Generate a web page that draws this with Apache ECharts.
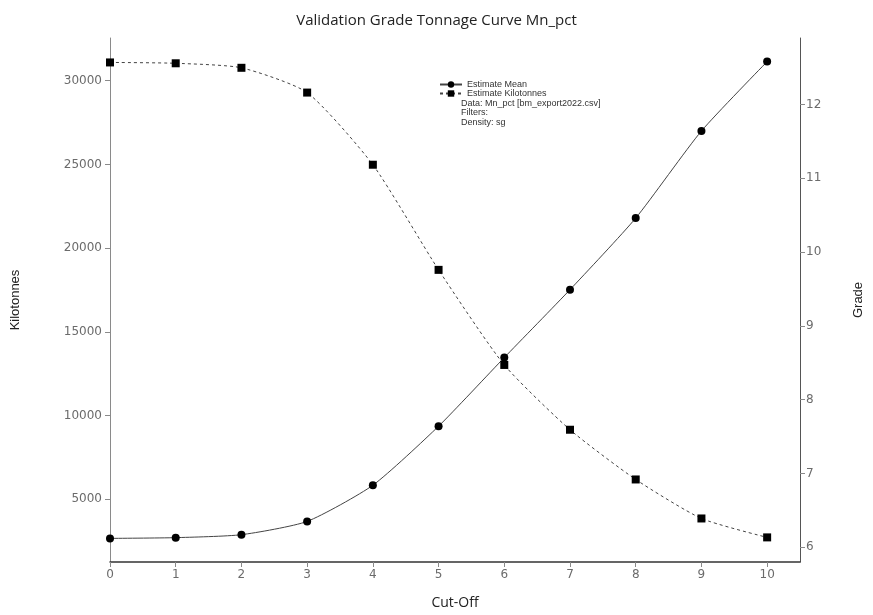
<!DOCTYPE html>
<html lang="en">
<head>
  <meta charset="UTF-8" />
  <title>Validation Grade Tonnage Curve Mn_pct</title>
  <script src="https://cdn.jsdelivr.net/npm/echarts@6.0.0/dist/echarts.min.js"></script>
  <style>
    body { margin: 0; background: #fff; }
    #chart { width: 873px; height: 615px; }
  </style>
</head>
<body>
  <div id="chart"></div>
  <script>
    const cutOff = [0, 1, 2, 3, 4, 5, 6, 7, 8, 9, 10];
    const kilotonnes = [31090, 31040, 30770, 29290, 24980, 18700, 13020, 9150, 6180, 3850, 2720];
    const grade = [6.12, 6.13, 6.17, 6.35, 6.84, 7.64, 8.57, 9.49, 10.46, 11.64, 12.58];
    const leftTicks = [5000, 10000, 15000, 20000, 25000, 30000];
    const rightTicks = [6, 7, 8, 9, 10, 11, 12];
    const xTicks = [0, 1, 2, 3, 4, 5, 6, 7, 8, 9, 10];
    const infoLines = ['Data: Mn_pct [bm_export2022.csv]', 'Filters:', 'Density: sg'];

    const chart = echarts.init(document.getElementById('chart'));
    const axisGray = '#8a8a8a';
    const labelGray = '#6b6b6b';

    chart.setOption({
      animation: false,
      backgroundColor: '#fff',
      title: {
        text: 'Validation Grade Tonnage Curve Mn_pct',
        left: 'center',
        top: 8,
        textStyle: { fontFamily: 'Open Sans', fontSize: 15, fontWeight: 'normal', color: '#222' }
      },
      grid: { left: 110, right: 68, top: 38, bottom: 53 },
      legend: {
        orient: 'vertical',
        left: 434,
        top: 75,
        itemWidth: 22,
        itemHeight: 8,
        itemGap: 0,
        textStyle: { fontFamily: 'Liberation Sans', fontSize: 9, color: '#333' },
        data: ['Estimate Mean', 'Estimate Kilotonnes']
      },
      graphic: infoLines.map((t, i) => ({
        type: 'text',
        left: 461,
        top: 99 + i * 9.5,
        style: { text: t, font: '9px "Liberation Sans"', fill: '#333' }
      })),
      xAxis: {
        type: 'value',
        min: 0,
        max: 10.5,
        name: 'Cut-Off',
        nameLocation: 'middle',
        nameGap: 34,
        nameTextStyle: { fontFamily: 'Open Sans', fontSize: 14, color: '#222' },
        axisLine: { lineStyle: { color: '#333', width: 1.5 } },
        axisTick: { customValues: xTicks, length: 5, lineStyle: { color: axisGray } },
        axisLabel: { customValues: xTicks, color: labelGray, fontFamily: 'DejaVu Sans', fontSize: 12, margin: 7 },
        splitLine: { show: false }
      },
      yAxis: [
        {
          type: 'value',
          min: 1250,
          max: 32550,
          position: 'left',
          name: 'Kilotonnes',
          nameLocation: 'middle',
          nameGap: 88,
          nameTextStyle: { fontFamily: 'Liberation Sans', fontSize: 13, color: '#222' },
          axisLine: { show: true, lineStyle: { color: axisGray } },
          axisTick: { show: true, customValues: leftTicks, length: 5, lineStyle: { color: axisGray } },
          axisLabel: {
            customValues: leftTicks, color: labelGray, fontFamily: 'DejaVu Sans', fontSize: 12, margin: 8,
            formatter: v => String(v)
          },
          splitLine: { show: false }
        },
        {
          type: 'value',
          min: 5.8,
          max: 12.9,
          position: 'right',
          name: 'Grade',
          nameLocation: 'middle',
          nameGap: 52,
          nameTextStyle: { fontFamily: 'Liberation Sans', fontSize: 13, color: '#222' },
          axisLine: { show: true, lineStyle: { color: '#555' } },
          axisTick: { show: true, customValues: rightTicks, length: 5, lineStyle: { color: axisGray } },
          axisLabel: { customValues: rightTicks, color: labelGray, fontFamily: 'DejaVu Sans', fontSize: 12, margin: 6 },
          splitLine: { show: false }
        }
      ],
      series: [
        {
          name: 'Estimate Mean',
          type: 'line',
          yAxisIndex: 1,
          data: cutOff.map((c, i) => [c, grade[i]]),
          smooth: 0.2,
          symbol: 'circle',
          symbolSize: 8,
          itemStyle: { color: '#000' },
          lineStyle: { color: '#444', width: 1 }
        },
        {
          name: 'Estimate Kilotonnes',
          type: 'line',
          yAxisIndex: 0,
          data: cutOff.map((c, i) => [c, kilotonnes[i]]),
          smooth: 0.2,
          symbol: 'rect',
          symbolSize: 8,
          itemStyle: { color: '#000' },
          lineStyle: { color: '#444', width: 1, type: [3, 3] }
        }
      ]
    });
  </script>
</body>
</html>
